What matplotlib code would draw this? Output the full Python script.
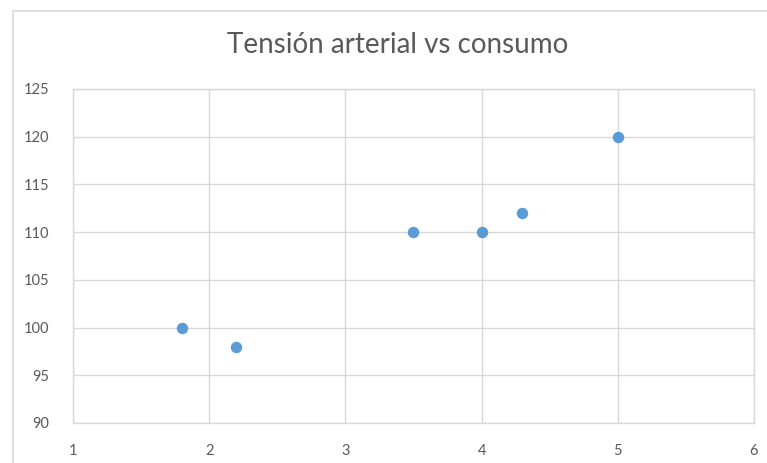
import matplotlib.pyplot as plt
import matplotlib.patches as mpatches

# Datos
consumo = [1.8, 2.2, 3.5, 4.0, 4.3, 5.0]
tension = [100, 98, 110, 110, 112, 120]
x_ticks = [1, 2, 3, 4, 5, 6]
y_ticks = [90, 95, 100, 105, 110, 115, 120, 125]

plt.rcParams['font.family'] = ['Lato', 'DejaVu Sans']

fig = plt.figure(figsize=(7.67, 4.63), dpi=100)
ax = fig.add_axes([0.0952, 0.0864, 0.983 - 0.0952, 0.8078 - 0.0864])

# marco exterior del grafico
fig.patches.append(mpatches.Rectangle((13 / 767, -0.1), 1.0, 1.1 - 11 / 463,
                                      transform=fig.transFigure, fill=False,
                                      edgecolor='#d9d9d9', linewidth=1.2))

ax.scatter(consumo, tension, s=68, color='#5b9bd5', zorder=3, linewidths=0)

ax.set_xlim(1, 6)
ax.set_ylim(90, 125)
ax.set_xticks(x_ticks)
ax.set_yticks(y_ticks)
ax.grid(True, color='#d9d9d9', linewidth=1)
for s in ax.spines.values():
    s.set_color('#d9d9d9')
    s.set_linewidth(1)
ax.tick_params(length=0, colors='#595959', labelsize=10.5)
ax.tick_params(axis='y', pad=17)
ax.tick_params(axis='x', pad=15)

fig.text(0.518, 0.902, 'Tensión arterial vs consumo', ha='center', va='center',
         fontsize=20, color='#595959')

fig.savefig('out.png', dpi=100)
